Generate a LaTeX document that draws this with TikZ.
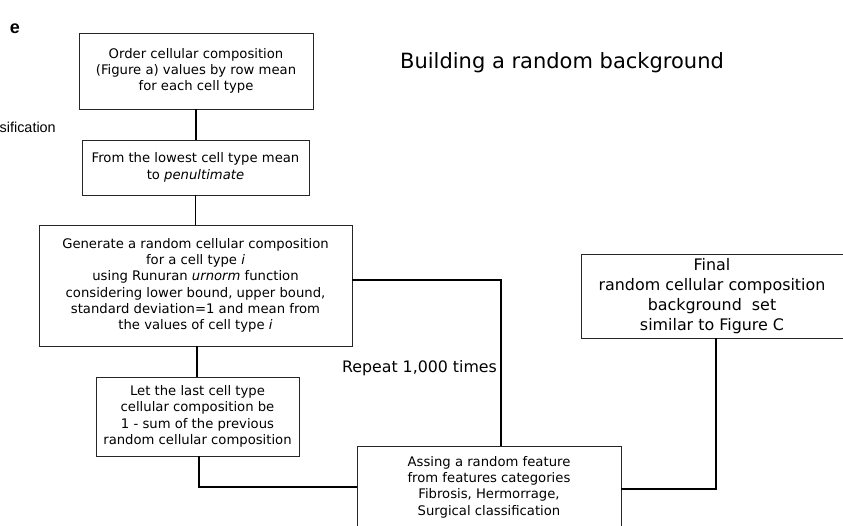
\documentclass[tikz,border=0pt]{standalone}
\usepackage{fontspec}
\setmainfont{DejaVu Sans}
\newfontfamily\arialfont{Liberation Sans}
\begin{document}
\begin{tikzpicture}[x=1pt,y=-1pt,
  flowbox/.style={draw=black!85, line width=0.9pt, align=center, inner sep=0pt,
    font=\fontsize{13.2}{16.3}\selectfont},
  bigbox/.style={flowbox, font=\fontsize{15.9}{20}\selectfont},
  link/.style={draw=black, line width=1.8pt}]
\useasboundingbox (0,0) rectangle (843,525);
\begin{scope}
\clip (0,0) rectangle (843,525);

% panel letter and clipped neighbour label
\node[font=\arialfont\bfseries\fontsize{18}{20}\selectfont] (letter) at (15,29) {e};
\node[font=\arialfont\fontsize{14.4}{16}\selectfont, anchor=west, inner sep=0pt] (side) at (-0.5,127) {sification};

% title
\node[font=\fontsize{21}{24}\selectfont] (title) at (562,63) {Building a random background};

% flow boxes
\node[flowbox, minimum width=234, minimum height=76] (b1) at (196,71)
  {Order cellular composition\\(Figure a) values by row mean\\for each cell type};
\node[flowbox, minimum width=227, minimum height=55] (b2) at (195.5,167.5)
  {From the lowest cell type mean\\to \textit{penultimate}};
\node[flowbox, minimum width=313, minimum height=121] (b3) at (195.5,285.5)
  {Generate a random cellular composition\\for a cell type \textit{i}\\using Runuran \textit{urnorm} function\\considering lower bound, upper bound,\\standard deviation=1 and mean from\\the values of cell type \textit{i}};
\node[flowbox, minimum width=203, minimum height=79] (b4) at (197.5,416.5)
  {Let the last cell type\\cellular composition be\\1 - sum of the previous\\random cellular composition};
\node[flowbox, minimum width=264, minimum height=82] (b5) at (489,487)
  {Assing a random feature\\from features categories\\Fibrosis, Hermorrage,\\Surgical classification};
\node[bigbox, minimum width=262, minimum height=84] (fin) at (712,296)
  {Final\\random cellular composition\\background\ \ set\\similar to Figure C};

% loop label
\node[font=\fontsize{15.8}{18}\selectfont] (rep) at (419.5,368) {Repeat 1,000 times};

% connectors
\draw[link] (b1.south) -- (b1.south |- b2.north);
\draw[link] (b2.south) -- (b2.south |- b3.north);
\draw[link] ([xshift=1.5pt]b3.south) -- ([xshift=1.5pt]b3.south |- b4.north);
\draw[link] ([xshift=1.5pt]b4.south) |- (b5.west);
\draw[link] ([yshift=5.5pt]b3.east) -| ([xshift=12pt]b5.north);
\draw[link] ([yshift=-2pt]b5.east) -| ([xshift=4pt]fin.south);
\end{scope}
\end{tikzpicture}
\end{document}
